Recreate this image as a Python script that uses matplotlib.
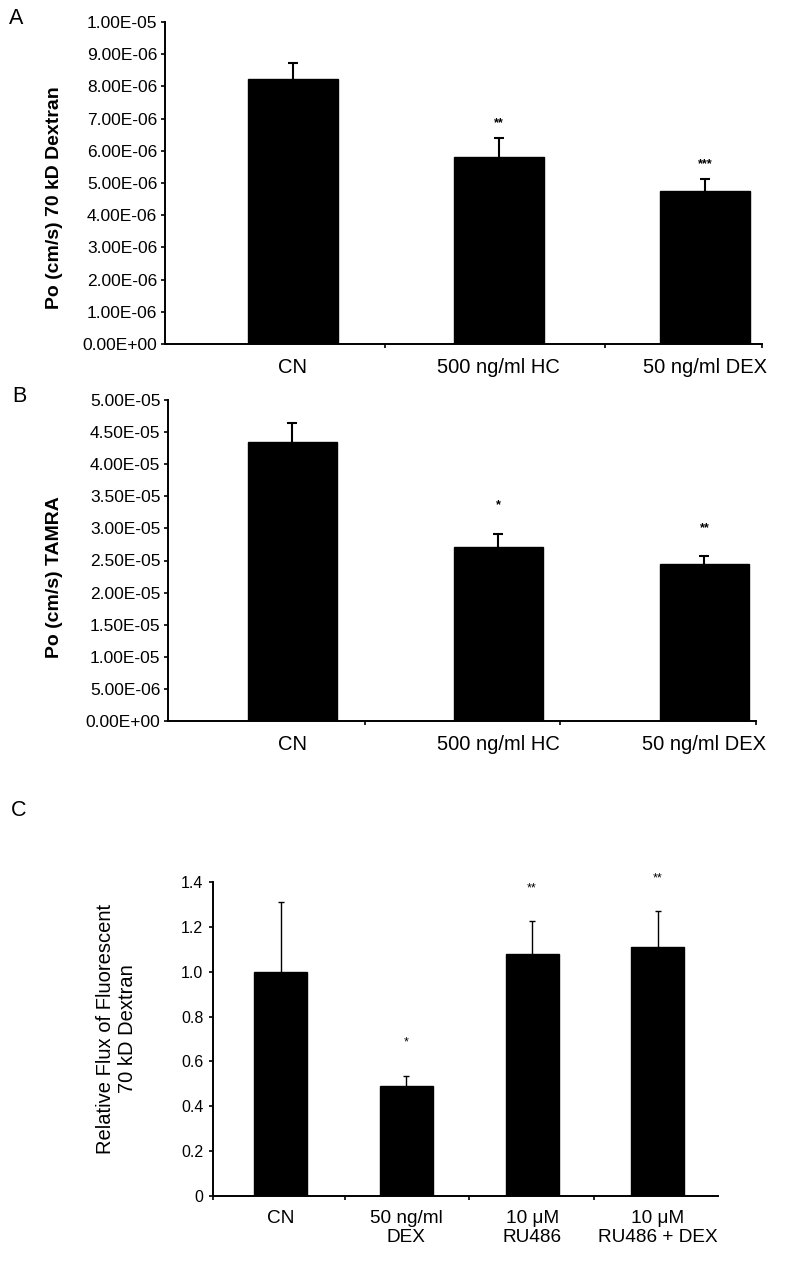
import numpy as np
import matplotlib as mpl
mpl.use('Agg')
import matplotlib.pyplot as plt
from matplotlib.ticker import FormatStrFormatter

plt.rcParams['font.family'] = ['Liberation Sans', 'DejaVu Sans']

# ---- data ----
a_labels = ['CN', '500 ng/ml HC', '50 ng/ml DEX']
a_values = [8.24e-6, 5.82e-6, 4.75e-6]
a_errors = [0.48e-6, 0.57e-6, 0.37e-6]
a_stars = ['', '**', '***']

b_labels = ['CN', '500 ng/ml HC', '50 ng/ml DEX']
b_values = [4.34e-5, 2.71e-5, 2.45e-5]
b_errors = [0.30e-5, 0.21e-5, 0.12e-5]
b_stars = ['', '*', '**']

c_labels = ['CN', '50 ng/ml\nDEX', '10 \u03bcM\nRU486', '10 \u03bcM\nRU486 + DEX']
c_values = [1.00, 0.49, 1.078, 1.111]
c_errors = [0.31, 0.046, 0.147, 0.158]
c_stars = ['', '*', '**', '**']

W, H = 787, 1264
fig = plt.figure(figsize=(W / 100, H / 100), dpi=100)


def px_axes(left, top, right, bottom):
    return fig.add_axes([left / W, 1 - bottom / H, (right - left) / W, (bottom - top) / H])


def style(ax, lw=1.4):
    for s in ['top', 'right']:
        ax.spines[s].set_visible(False)
    ax.spines['left'].set_linewidth(lw)
    ax.spines['bottom'].set_linewidth(lw)
    ax.tick_params(axis='y', direction='out', length=3, width=1.2, pad=2.5)
    ax.tick_params(axis='x', which='major', length=0, pad=10, labelsize=14.5)
    ax.tick_params(axis='x', which='minor', direction='out', length=3, width=1.2)


def draw(ax, values, errors, stars, labels, width, elw, cap, star_off, star_bold):
    x = np.arange(len(values))
    ax.bar(x, values, width=width, color='black', edgecolor='black', zorder=2)
    eb = ax.errorbar(x, values, yerr=[np.zeros(len(values)), errors], fmt='none',
                     ecolor='black', elinewidth=elw, capsize=cap, capthick=elw, zorder=1)
    # only the upper cap is shown
    eb[1][0].set_visible(False)
    for xi, v, e, s in zip(x, values, errors, stars):
        if s:
            ax.annotate(s, xy=(xi, v + e), xytext=(0, star_off), textcoords='offset pixels',
                        ha='center', va='center', fontsize=9,
                        fontweight='bold' if star_bold else 'normal', annotation_clip=False)
    ax.set_xticks(x)
    ax.set_xticklabels(labels)


# ---- panel A ----
axA = px_axes(165, 22, 762, 344)
draw(axA, a_values, a_errors, a_stars, a_labels, 0.44, 1.5, 3.5, 15, True)
axA.set_xlim(-0.621, 2.277)
axA.set_ylim(0, 1e-5)
axA.set_yticks(np.arange(0, 1.01e-5, 1e-6))
axA.yaxis.set_major_formatter(FormatStrFormatter('%.2E'))
axA.set_xticks([0.447, 1.515, 2.277], minor=True)
style(axA)
axA.tick_params(axis='y', labelsize=12.5)
axA.set_ylabel('Po (cm/s) 70 kD Dextran', fontsize=14, fontweight='bold')
axA.yaxis.set_label_coords(-0.171, 0.455)

# ---- panel B ----
axB = px_axes(168, 400, 756, 721)
draw(axB, b_values, b_errors, b_stars, b_labels, 0.43, 1.5, 3.5, 28, True)
axB.set_xlim(-0.604, 2.25)
axB.set_ylim(0, 5e-5)
axB.set_yticks(np.arange(0, 5.01e-5, 5e-6))
axB.yaxis.set_major_formatter(FormatStrFormatter('%.2E'))
axB.set_xticks([0.352, 1.299, 2.25], minor=True)
style(axB)
axB.tick_params(axis='y', labelsize=12.5)
axB.set_ylabel('Po (cm/s) TAMRA', fontsize=14, fontweight='bold')
axB.yaxis.set_label_coords(-0.179, 0.448)

# ---- panel C ----
axC = px_axes(213, 882, 718, 1196)
draw(axC, c_values, c_errors, c_stars, c_labels, 0.42, 1.0, 2.5, 33, False)
axC.set_xlim(-0.537, 3.478)
axC.set_ylim(0, 1.4)
axC.set_yticks(np.arange(0, 1.41, 0.2))
axC.set_yticklabels(['0'] + ['%.1f' % t for t in np.arange(0.2, 1.41, 0.2)])
axC.set_xticks([-0.537, 0.513, 1.498, 2.49], minor=True)
style(axC)
axC.tick_params(axis='y', labelsize=11.5, pad=4)
axC.tick_params(axis='x', which='major', labelsize=13.7)
axC.set_ylabel('Relative Flux of Fluorescent\n70 kD Dextran', fontsize=14.5)
axC.yaxis.set_label_coords(-0.150, 0.532)

# panel letters
fig.text(9 / W, 1 - 19 / H, 'A', fontsize=15.5, va='center', ha='left')
fig.text(12 / W, 1 - 396 / H, 'B', fontsize=15.5, va='center', ha='left')
fig.text(11 / W, 1 - 811 / H, 'C', fontsize=15.5, va='center', ha='left')

fig.savefig('out.png', dpi=100)
